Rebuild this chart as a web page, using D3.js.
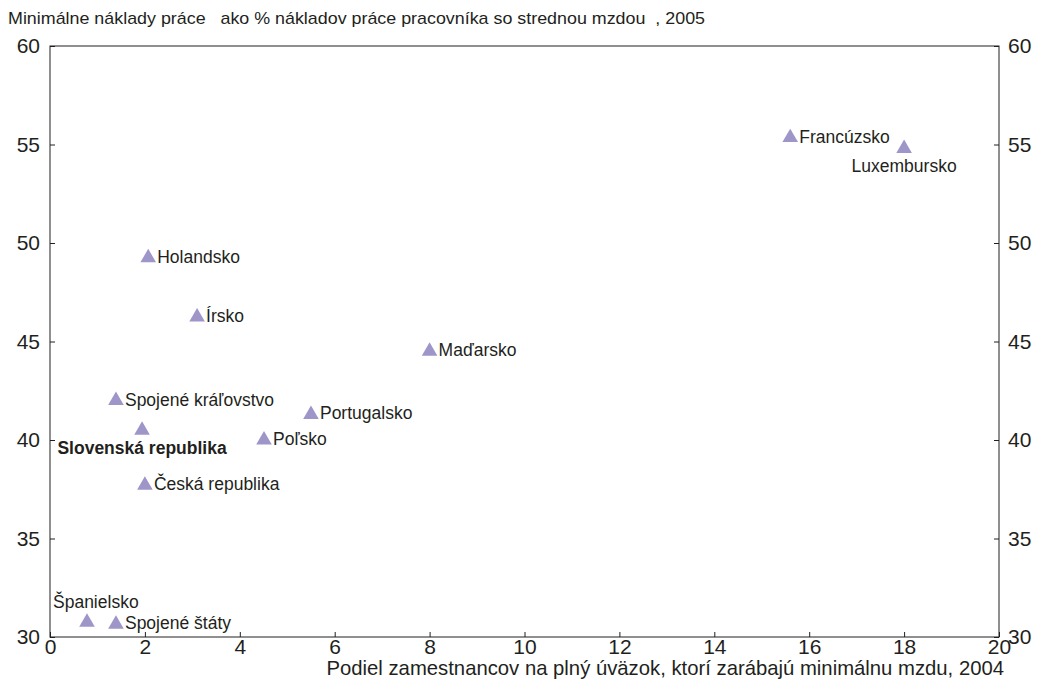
<!DOCTYPE html>
<html>
<head>
<meta charset="utf-8">
<script src="https://cdn.jsdelivr.net/npm/d3@7"></script>
<style>
  body { margin: 0; background: #fff; }
  text { font-family: "Liberation Sans", Arial, sans-serif; fill: #231f20; }
</style>
</head>
<body>
<script>
// Data
var countries = ["Francúzsko", "Luxembursko", "Holandsko", "Írsko", "Maďarsko",
    "Spojené kráľovstvo", "Slovenská republika", "Portugalsko", "Poľsko",
    "Česká republika", "Španielsko", "Spojené štáty"];
var shareMinWage = [15.6, 18.0, 2.07, 3.1, 8.0, 1.39, 1.94, 5.5, 4.51, 2.0, 0.78, 1.39];
var labourCost = [55.4, 54.85, 49.3, 46.3, 44.55, 42.05, 40.55, 41.35, 40.05, 37.75, 30.8, 30.7];
var labelSide = ["right", "below", "right", "right", "right", "right", "below",
    "right", "right", "right", "above", "right"];
var xTicks = [0, 2, 4, 6, 8, 10, 12, 14, 16, 18, 20];
var yTicks = [30, 35, 40, 45, 50, 55, 60];

var W = 1037, H = 681;
var mLeft = 50, mRight = 999, mTop = 46, mBottom = 637;

var svg = d3.select("body").append("svg")
    .attr("width", W).attr("height", H);

var x = d3.scaleLinear().domain([0, 20]).range([mLeft, mRight]);
var y = d3.scaleLinear().domain([30, 60]).range([mBottom, mTop]);

//frame
svg.append("rect")
    .attr("x", mLeft).attr("y", mTop)
    .attr("width", mRight - mLeft).attr("height", mBottom - mTop)
    .attr("fill", "none").attr("stroke", "#231f20").attr("stroke-width", 1);

//axes
var xAxis = svg.append("g").attr("transform", "translate(0," + mBottom + ")")
    .call(d3.axisBottom(x).tickValues(xTicks).tickSizeInner(-5).tickSizeOuter(0).tickPadding(4));
var yLeft = svg.append("g").attr("transform", "translate(" + mLeft + ",0)")
    .call(d3.axisLeft(y).tickValues(yTicks).tickSizeInner(-5).tickSizeOuter(0).tickPadding(10));
var yRight = svg.append("g").attr("transform", "translate(" + mRight + ",0)")
    .call(d3.axisRight(y).tickValues(yTicks).tickSizeInner(-5).tickSizeOuter(0).tickPadding(9));

[xAxis, yLeft, yRight].forEach(function(g){
    g.select(".domain").remove();
    g.selectAll(".tick line").attr("stroke", "#231f20");
    g.selectAll(".tick text").attr("font-size", 21).attr("fill", "#231f20")
        .style("font-family", "'Liberation Sans', Arial, sans-serif");
});
xAxis.selectAll(".tick text").attr("dy", "0.6em");

//titles
svg.append("text").attr("x", 8).attr("y", 24).attr("font-size", 17)
    .attr("xml:space", "preserve")
    .attr("textLength", 697).attr("lengthAdjust", "spacingAndGlyphs")
    .text("Minimálne náklady práce   ako % nákladov práce pracovníka so strednou mzdou  , 2005");
svg.append("text").attr("x", 1004).attr("y", 675).attr("font-size", 20.3)
    .attr("text-anchor", "end")
    .text("Podiel zamestnancov na plný úväzok, ktorí zarábajú minimálnu mzdu, 2004");

//points
var pts = countries.map(function(c, i){
    return {name: c, x: shareMinWage[i], y: labourCost[i], side: labelSide[i]};
});

var tri = d3.symbol().type(d3.symbolTriangle).size(105);
svg.append("g").selectAll("path").data(pts).enter().append("path")
    .attr("d", tri)
    .attr("fill", "#9e95c9")
    .attr("transform", function(d){ return "translate(" + x(d.x) + "," + (y(d.y) + 1) + ")"; });

svg.append("g").selectAll("text").data(pts).enter().append("text")
    .attr("font-size", 17.5)
    .attr("font-weight", function(d){ return d.name === "Slovenská republika" ? "bold" : "normal"; })
    .attr("text-anchor", function(d){ return d.side === "below" ? "middle" : "start"; })
    .attr("x", function(d){
        if (d.side === "below") return x(d.x);
        if (d.side === "above") return x(d.x) - 34;
        return x(d.x) + 9;
    })
    .attr("y", function(d){
        if (d.side === "below") return y(d.y) + 25;
        if (d.side === "above") return y(d.y) - 13;
        return y(d.y) + 6;
    })
    .text(function(d){ return d.name; });
</script>
</body>
</html>
